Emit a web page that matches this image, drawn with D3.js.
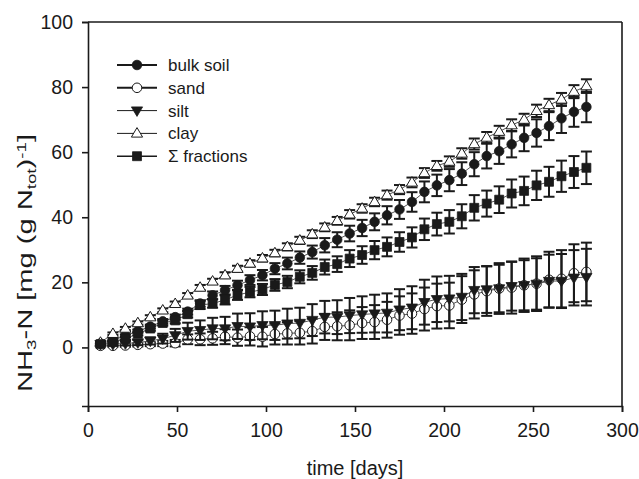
<!DOCTYPE html>
<html>
<head>
<meta charset="utf-8">
<script src="https://cdn.jsdelivr.net/npm/d3@7"></script>
<style>
  html, body { margin: 0; padding: 0; background: #fff; }
  svg { display: block; }
  text { font-family: "Liberation Sans", Arial, sans-serif; fill: #1a1a1a; }
</style>
</head>
<body>
<svg id="chart" width="639" height="479"></svg>
<script>
// Sampling days (weekly)
const days = [7,14,21,28,35,42,49,56,63,70,77,84,91,98,105,112,119,126,133,140,
              147,154,161,168,175,182,189,196,203,210,217,224,231,238,245,252,259,266,273,280];

// Cumulative NH3-N, mg (g Ntot)^-1
const bulkSoil = [1.2,2.2,3.6,5.0,6.4,8.0,9.3,11.0,13.5,16.0,17.6,19.1,20.7,22.2,24.2,25.8,27.6,29.3,31.4,33.1,
                  35.0,36.7,38.6,40.6,42.4,44.7,47.8,49.8,51.4,53.4,56.3,58.8,60.3,62.4,64.4,65.9,68.0,70.4,72.4,73.9];
const bulkSoilErr = [0.2,0.3,0.4,0.5,0.6,0.7,0.8,0.9,1.0,1.2,1.3,1.4,1.5,1.6,1.7,1.8,1.9,2.0,2.2,2.3,
                     2.4,2.5,2.6,2.8,2.9,3.0,3.2,3.3,3.4,3.5,3.7,3.8,3.9,4.0,4.1,4.2,4.3,4.5,4.6,4.7];

const sand = [0.5,0.5,0.6,0.8,1.0,1.2,1.3,2.5,2.5,2.8,3.3,3.0,3.4,3.3,4.1,4.3,4.5,5.0,6.3,6.5,
              6.8,7.5,7.8,8.5,9.8,10.4,11.8,12.7,12.9,14.7,16.3,17.3,18.1,18.4,19.1,19.6,20.8,21.1,22.8,23.2];
const sandErr = [0.2,0.3,0.4,0.5,0.6,0.8,1.0,1.5,1.8,2.0,2.3,2.5,2.8,3.0,3.2,3.4,3.6,3.8,4.0,4.3,
                 4.6,4.9,5.2,5.5,5.9,6.2,6.6,6.9,7.0,7.2,7.4,7.6,7.8,8.0,8.2,8.4,8.6,8.8,8.9,9.0];

const silt = [1.0,1.0,1.2,1.5,2.0,2.7,3.7,5.0,5.3,5.8,5.8,6.5,6.4,6.8,6.8,7.3,7.5,8.4,9.3,9.3,
              9.8,10.1,10.4,10.6,11.6,12.2,13.9,14.8,15.0,15.5,17.6,17.8,18.1,18.8,19.1,19.5,20.4,20.4,21.4,21.6];
const siltErr = [0.3,0.4,0.6,0.8,1.1,1.5,2.0,2.6,3.0,3.3,3.6,3.9,4.1,4.3,4.5,4.6,4.7,4.9,5.0,5.2,
                 5.4,5.6,5.8,6.0,6.3,6.6,6.9,7.0,7.0,7.1,7.1,7.2,7.3,7.5,7.7,7.9,8.1,8.3,8.5,8.7];

const clay = [1.5,4.2,5.8,7.5,9.3,11.4,13.4,16.0,18.4,20.3,22.2,24.2,25.8,27.4,29.0,30.9,32.9,34.8,36.9,38.9,
              40.9,42.7,44.7,46.8,48.5,50.7,53.6,55.8,57.1,59.6,62.5,64.5,66.3,68.3,70.0,72.7,74.5,76.2,78.6,80.3];
const clayErr = [0.3,0.4,0.5,0.5,0.6,0.6,0.7,0.7,0.8,0.8,0.9,0.9,1.0,1.0,1.0,1.1,1.1,1.2,1.2,1.2,
                 1.3,1.3,1.3,1.4,1.4,1.5,1.5,1.5,1.6,1.6,1.7,1.7,1.8,1.8,1.8,1.9,1.9,2.0,2.0,2.1];

const sumFractions = [1.0,1.6,2.7,4.2,5.8,7.5,8.3,10.2,13.0,13.5,14.6,16.1,17.0,17.8,19.2,20.1,21.7,22.9,24.7,25.6,
                      27.3,28.4,29.9,30.9,32.4,33.8,36.3,37.9,38.6,40.3,42.9,44.2,45.4,47.3,48.1,49.8,50.9,52.6,53.9,55.2];
const sumFractionsErr = [0.2,0.3,0.4,0.5,0.7,0.8,0.9,1.0,1.2,1.3,1.4,1.5,1.6,1.7,1.8,1.9,2.0,2.1,2.3,2.4,
                         2.6,2.7,2.8,2.9,3.0,3.1,3.3,3.5,3.6,3.7,3.9,4.0,4.1,4.3,4.4,4.5,4.6,4.8,4.9,5.0];

const seriesNames = ["bulk soil", "sand", "silt", "clay", "\u03A3 fractions"];
const xTicks = [0, 50, 100, 150, 200, 250, 300];
const yTicks = [0, 20, 40, 60, 80, 100];

const series = [
  { name: seriesNames[0], values: bulkSoil, err: bulkSoilErr, shape: "circle",   filled: true,  legendLine: 2 },
  { name: seriesNames[1], values: sand,     err: sandErr,     shape: "circle",   filled: false, legendLine: 2 },
  { name: seriesNames[2], values: silt,     err: siltErr,     shape: "triDown",  filled: true,  legendLine: 1 },
  { name: seriesNames[3], values: clay,     err: clayErr,     shape: "triUp",    filled: false, legendLine: 1 },
  { name: seriesNames[4], values: sumFractions, err: sumFractionsErr, shape: "square", filled: true, legendLine: 1.5 }
];

const svg = d3.select("#chart");
const x = d3.scaleLinear().domain([0, 300]).range([88, 622]);
const y = d3.scaleLinear().domain([-18, 100]).range([406, 22]);

const ink = "#1a1a1a";

// Marker paths
function markerPath(shape) {
  if (shape === "circle") return d3.symbol(d3.symbolCircle, 72)();
  if (shape === "square") return d3.symbol(d3.symbolSquare, 80)();
  if (shape === "triUp") return "M0,-5.8L5.6,3.7L-5.6,3.7Z";
  if (shape === "triDown") return "M0,5.8L5.6,-3.7L-5.6,-3.7Z";
}

// Frame (top and right)
svg.append("line").attr("x1", x(0)).attr("x2", x(300)).attr("y1", y(100)).attr("y2", y(100))
  .attr("stroke", ink).attr("stroke-width", 1.6);
svg.append("line").attr("x1", x(300)).attr("x2", x(300)).attr("y1", y(100)).attr("y2", y(-18))
  .attr("stroke", ink).attr("stroke-width", 1.6);

// Axes
const xAxis = svg.append("g").attr("transform", `translate(0,${y(-18)})`)
  .call(d3.axisBottom(x).tickValues(xTicks).tickSize(6).tickPadding(11).tickFormat(d3.format("d")));
const yAxis = svg.append("g").attr("transform", `translate(${x(0)},0)`)
  .call(d3.axisLeft(y).tickValues(yTicks).tickSize(6).tickPadding(9).tickFormat(d3.format("d")));
[xAxis, yAxis].forEach(g => {
  g.select(".domain").attr("stroke", ink).attr("stroke-width", 1.6);
  g.selectAll(".tick line").attr("stroke", ink).attr("stroke-width", 1.6);
  g.selectAll(".tick text").attr("fill", ink).style("font-size", "19.5px")
    .style("font-family", "'Liberation Sans', Arial, sans-serif");
});

// Axis titles
svg.append("text").attr("x", (x(0) + x(300)) / 2).attr("y", 475)
  .attr("text-anchor", "middle").style("font-size", "20px").text("time [days]");

const yTitle = svg.append("text")
  .attr("transform", `translate(32,263) rotate(-90)`)
  .attr("text-anchor", "middle").style("font-size", "21px")
  .attr("textLength", 258).attr("lengthAdjust", "spacingAndGlyphs");
yTitle.append("tspan").text("NH");
yTitle.append("tspan").attr("baseline-shift", "-25%").style("font-size", "13.5px").text("3");
yTitle.append("tspan").text("-N [mg (g N");
yTitle.append("tspan").attr("baseline-shift", "-25%").style("font-size", "13.5px").text("tot");
yTitle.append("tspan").text(")");
yTitle.append("tspan").attr("baseline-shift", "45%").style("font-size", "13.5px").text("-1");
yTitle.append("tspan").text("]");

// Series
const plot = svg.append("g");
const line = d3.line().x((d, i) => x(days[i])).y(d => y(d));
const cap = 5.5;

series.forEach(s => {
  const g = plot.append("g");
  g.append("path").datum(s.values).attr("d", line)
    .attr("fill", "none").attr("stroke", "#555").attr("stroke-width", 1);

  const eb = g.append("g").selectAll("g").data(s.values).join("g")
    .attr("stroke", ink).attr("stroke-width", 2);
  eb.append("line").attr("x1", (d, i) => x(days[i])).attr("x2", (d, i) => x(days[i]))
    .attr("y1", (d, i) => y(d + s.err[i])).attr("y2", (d, i) => y(d - s.err[i]));
  eb.append("line").attr("x1", (d, i) => x(days[i]) - cap).attr("x2", (d, i) => x(days[i]) + cap)
    .attr("y1", (d, i) => y(d + s.err[i])).attr("y2", (d, i) => y(d + s.err[i]));
  eb.append("line").attr("x1", (d, i) => x(days[i]) - cap).attr("x2", (d, i) => x(days[i]) + cap)
    .attr("y1", (d, i) => y(d - s.err[i])).attr("y2", (d, i) => y(d - s.err[i]));

  g.append("g").selectAll("path").data(s.values).join("path")
    .attr("transform", (d, i) => `translate(${x(days[i])},${y(d)})`)
    .attr("d", markerPath(s.shape))
    .attr("fill", s.filled ? ink : "#fff")
    .attr("stroke", ink).attr("stroke-width", s.filled ? 0.8 : 1);
});

// Legend
const legend = svg.append("g");
series.forEach((s, i) => {
  const ly = 65 + i * 22.8;
  legend.append("line").attr("x1", 117).attr("x2", 157).attr("y1", ly).attr("y2", ly)
    .attr("stroke", ink).attr("stroke-width", s.legendLine);
  legend.append("path").attr("transform", `translate(137,${ly})`).attr("d", markerPath(s.shape))
    .attr("fill", s.filled ? ink : "#fff").attr("stroke", ink).attr("stroke-width", s.filled ? 0.8 : 1);
  legend.append("text").attr("x", 168).attr("y", ly + 6).style("font-size", "17px").text(s.name);
});
</script>
</body>
</html>
